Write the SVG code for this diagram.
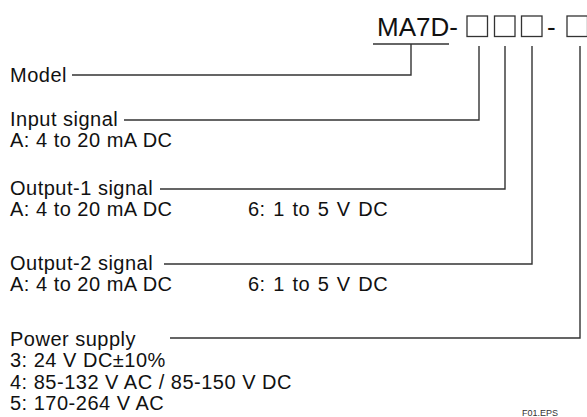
<svg xmlns="http://www.w3.org/2000/svg" width="587" height="417" viewBox="0 0 587 417">
<style>
text{font-family:"Liberation Sans",Arial,sans-serif;fill:#111;}
.t{font-size:20px;letter-spacing:0.5px;}
.w{word-spacing:1.5px;}
.h{font-size:26px;}
.ln{fill:none;stroke:#333;stroke-width:1.4;}
.bx{fill:#fff;stroke:#333;stroke-width:1.3;}
</style>
<rect width="587" height="417" fill="#fff"/>
<g id="code">
<text class="h" x="377" y="36">MA7D-</text>
<rect class="bx" x="467" y="16" width="20.5" height="20.5"/>
<rect class="bx" x="494.5" y="16" width="20.5" height="20.5"/>
<rect class="bx" x="521.5" y="16" width="20.5" height="20.5"/>
<text class="h" x="547" y="36">-</text>
<rect class="bx" x="567" y="16" width="20.5" height="20.5"/>
</g>
<g id="connectors">
<path class="ln" d="M373 44H449"/>
<path class="ln" d="M72 75H411V44"/>
<path class="ln" d="M124 120H479V46"/>
<path class="ln" d="M160 189H505V46"/>
<path class="ln" d="M164 264H532V46"/>
<path class="ln" d="M170 338H580V46"/>
</g>
<g id="model"><text class="t" x="10" y="82">Model</text></g>
<g id="input"><text class="t" x="10" y="126">Input signal</text><text class="t" x="10" y="147">A: 4 to 20 mA DC</text></g>
<g id="output1"><text class="t" x="10" y="195">Output-1 signal</text><text class="t" x="10" y="216">A: 4 to 20 mA DC</text><text class="t w" x="248" y="216">6: 1 to 5 V DC</text></g>
<g id="output2"><text class="t" x="10" y="270">Output-2 signal</text><text class="t" x="10" y="291">A: 4 to 20 mA DC</text><text class="t w" x="248" y="291">6: 1 to 5 V DC</text></g>
<g id="power"><text class="t" x="10" y="346">Power supply</text><text class="t" x="10" y="367">3: 24 V DC±10%</text><text class="t" x="10" y="389">4: 85-132 V AC / 85-150 V DC</text><text class="t" x="10" y="410">5: 170-264 V AC</text></g>
<g id="footer"><text x="522" y="416" style="font-size:9px;fill:#333">F01.EPS</text></g>
</svg>
